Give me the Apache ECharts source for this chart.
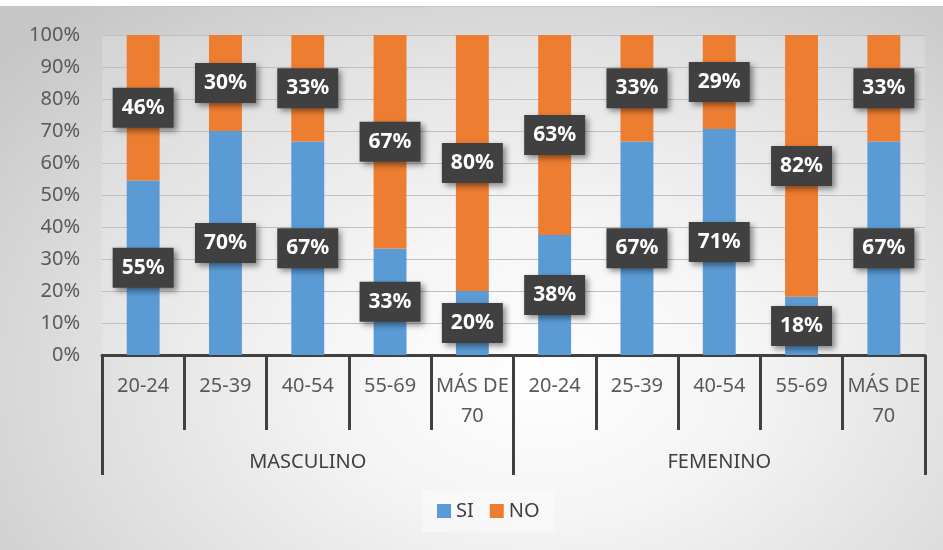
<!DOCTYPE html>
<html>
<head>
<meta charset="utf-8">
<script src="https://cdn.jsdelivr.net/npm/echarts@6/dist/echarts.min.js"></script>
<style>
html,body{margin:0;padding:0;background:#fff;}
#bg{position:absolute;left:0;top:6px;width:943px;height:544px;border-top:1px solid #c4c4c4;box-sizing:border-box;
background:radial-gradient(ellipse 75% 90% at 57% 68%, #ffffff 0%, #f4f4f4 30%, #dedede 65%, #c6c6c6 100%);}
#main{position:absolute;left:0;top:0;width:943px;height:550px;}
</style>
</head>
<body>
<div id="bg"></div>
<div id="main"></div>
<script>
const categories = ['20-24','25-39','40-54','55-69','MÁS DE\n70','20-24','25-39','40-54','55-69','MÁS DE\n70'];
const groups = ['MASCULINO','FEMENINO'];
const siValues = [54.5, 70, 66.7, 33.3, 20, 37.5, 66.7, 70.6, 18.2, 66.7];
const noValues = [45.5, 30, 33.3, 66.7, 80, 62.5, 33.3, 29.4, 81.8, 33.3];
const seriesNames = ['SI','NO'];
const colors = ['#5b9bd5','#ed7d31'];

const chart = echarts.init(document.getElementById('main'), null, {renderer:'canvas'});
const labelStyle = {
  show: true,
  position: 'inside',
  formatter: p => Math.round(p.value) + '%',
  color: '#ffffff',
  fontFamily: 'Noto Sans',
  fontWeight: 'bold',
  fontSize: 21,
  lineHeight: 24,
  backgroundColor: '#404040',
  padding: [8, 9],
  shadowBlur: 6,
  shadowColor: 'rgba(0,0,0,0.45)',
  shadowOffsetX: 3,
  shadowOffsetY: 3
};
const option = {
  backgroundColor: 'transparent',
  animation: false,
  textStyle: {fontFamily: 'Noto Sans'},
  grid: {left: 102, right: 18, top: 35, bottom: 195, show: true, backgroundColor: 'rgba(255,255,255,0.18)', borderWidth: 0},
  legend: {
    top: 490, left: 422,
    data: seriesNames,
    icon: 'rect', itemWidth: 14, itemHeight: 14, itemGap: 16,
    backgroundColor: 'rgba(255,255,255,0.35)',
    padding: [11, 15],
    textStyle: {color: '#404040', fontSize: 20, fontFamily: 'Noto Sans'}
  },
  xAxis: [
    {
      type: 'category', data: categories, position: 'bottom',
      axisLine: {show: true, lineStyle: {color: '#404040', width: 3}},
      axisTick: {show: true, length: 75, lineStyle: {color: '#404040', width: 3}},
      axisLabel: {color: '#595959', fontSize: 20, lineHeight: 30, margin: 16, interval: 0, fontFamily: 'Noto Sans'}
    },
    {
      type: 'category', data: groups, position: 'bottom',
      axisLine: {show: false},
      axisTick: {show: true, length: 120, lineStyle: {color: '#404040', width: 3}},
      axisLabel: {color: '#404040', fontSize: 20, lineHeight: 30, margin: 92, interval: 0, fontFamily: 'Noto Sans'}
    }
  ],
  yAxis: {
    type: 'value', min: 0, max: 100, interval: 10,
    axisLine: {show: false}, axisTick: {show: false},
    axisLabel: {formatter: '{value}%', color: '#595959', fontSize: 20, margin: 22, fontFamily: 'Noto Sans'},
    splitLine: {lineStyle: {color: '#bfbfbf', width: 1}}
  },
  series: [
    {name: seriesNames[0], type: 'bar', stack: 'total', data: siValues, barWidth: '40%', itemStyle: {color: colors[0]}, label: labelStyle, xAxisIndex: 0},
    {name: seriesNames[1], type: 'bar', stack: 'total', data: noValues, barWidth: '40%', itemStyle: {color: colors[1]}, label: labelStyle, xAxisIndex: 0}
  ]
};
chart.setOption(option);
</script>
</body>
</html>
